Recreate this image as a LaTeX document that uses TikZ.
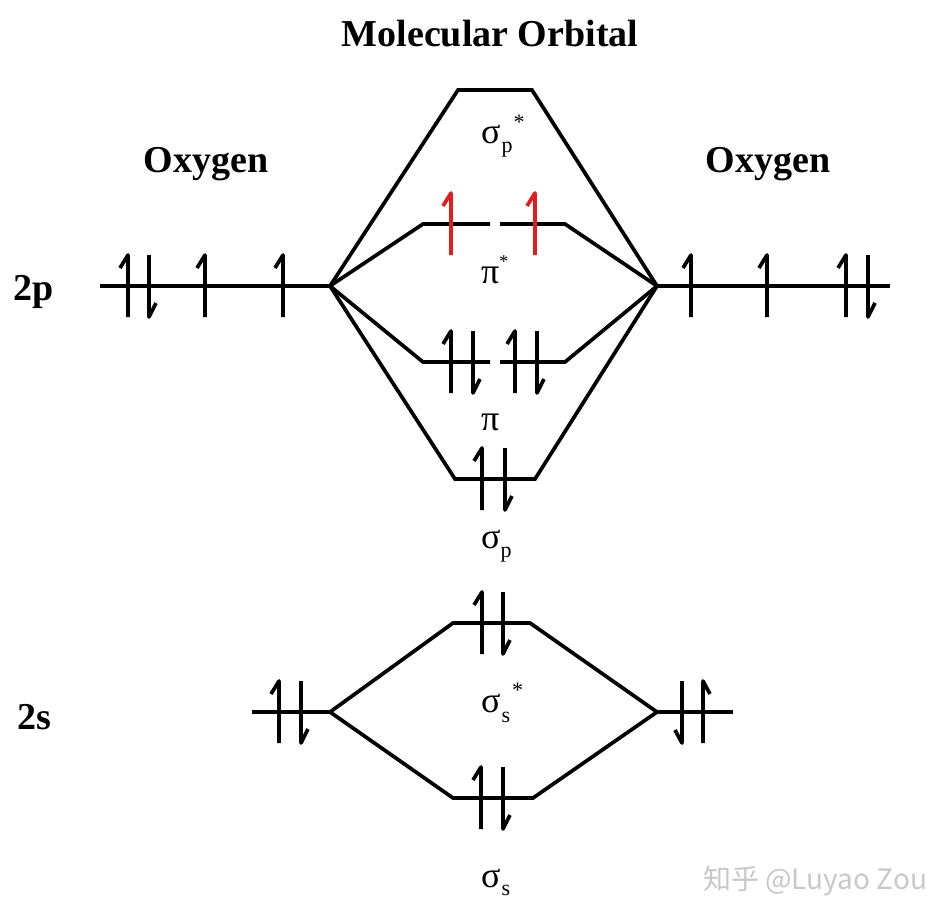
\documentclass[tikz,border=0pt]{standalone}
\usepackage{fontspec}
\setmainfont{Liberation Serif}
\newfontfamily\cjkfont{Noto Sans CJK SC}
\definecolor{ered}{HTML}{E01E1E}
\definecolor{wm}{HTML}{C8C8C8}
\newcommand{\subf}{\fontsize{22}{24}\selectfont}
\newcommand{\supf}{\fontsize{18}{20}\selectfont}
\begin{document}
\begin{tikzpicture}[x=1pt,y=-1pt,
  lvl/.style={line width=3.7pt, line join=miter},
  el/.style={line width=3.7pt, line join=round},
  ttl/.style={font=\fontsize{38}{42}\selectfont\bfseries, anchor=base, inner sep=0pt},
  mo/.style={font=\fontsize{36}{40}\selectfont, anchor=base west, inner sep=0pt},
  eup/.pic={\draw[el] (-8,-18) -- (0,-31) -- (0,31);},
  edn/.pic={\draw[el] (0,-31) -- (0,31) -- (7,17);},
  eupr/.pic={\draw[el] (7,-18) -- (0,-31) -- (0,31);},
  ednl/.pic={\draw[el] (0,-31) -- (0,31) -- (-7,18);}
]
\useasboundingbox (0,0) rectangle (950,921);
\fill[white] (0,0) rectangle (950,921);

% titles
\node[ttl] (tmo) at (490,46) {Molecular Orbital};
\node[ttl] (toxl) at (206,172) {Oxygen};
\node[ttl] (toxr) at (768,172) {Oxygen};
\node[ttl] (t2p) at (34,300) {2p};
\node[ttl] (t2s) at (34,729) {2s};

% coordinates
\coordinate (L2p) at (330,286);
\coordinate (R2p) at (657,286);
\coordinate (L2pe) at (100,286);
\coordinate (R2pe) at (890,286);
\coordinate (spsA) at (458,90);
\coordinate (spsB) at (532,90);
\coordinate (pisA) at (423,224);
\coordinate (pisM1) at (490,224);
\coordinate (pisM2) at (500,224);
\coordinate (pisB) at (565,224);
\coordinate (piA) at (423,362);
\coordinate (piM1) at (490,362);
\coordinate (piM2) at (500,362);
\coordinate (piB) at (565,362);
\coordinate (spA) at (455,479);
\coordinate (spB) at (535,479);
\coordinate (L2s) at (330,712);
\coordinate (R2s) at (657,712);
\coordinate (L2se) at (252,712);
\coordinate (R2se) at (733,712);
\coordinate (ssA) at (453,623);
\coordinate (ssB) at (530,623);
\coordinate (sA) at (453,798);
\coordinate (sB) at (533,798);

% levels
\draw[lvl] (L2pe) -- (L2p);
\draw[lvl] (R2p) -- (R2pe);
\draw[lvl] (L2p) -- (spsA) -- (spsB) -- (R2p);
\draw[lvl] (L2p) -- (pisA) -- (pisM1);
\draw[lvl] (pisM2) -- (pisB) -- (R2p);
\draw[lvl] (L2p) -- (piA) -- (piM1);
\draw[lvl] (piM2) -- (piB) -- (R2p);
\draw[lvl] (L2p) -- (spA) -- (spB) -- (R2p);
\draw[lvl] (L2se) -- (L2s);
\draw[lvl] (R2s) -- (R2se);
\draw[lvl] (L2s) -- (ssA) -- (ssB) -- (R2s);
\draw[lvl] (L2s) -- (sA) -- (sB) -- (R2s);

% electrons
\pic at (128,286) {eup}; \pic at (149,286) {edn};
\pic at (205,286) {eup}; \pic at (283,286) {eup};
\pic at (691,286) {eup}; \pic at (767,286) {eup};
\pic at (846,286) {eup}; \pic at (868,286) {edn};
\pic[ered] at (451,224) {eup}; \pic[ered] at (535,224) {eup};
\pic at (451,362) {eup}; \pic at (473,362) {edn};
\pic at (515,362) {eup}; \pic at (537,362) {edn};
\pic at (482,479) {eup}; \pic at (505,479) {edn};
\pic at (482,623) {eup}; \pic at (503,623) {edn};
\pic at (481,798) {eup}; \pic at (503,798) {edn};
\pic at (279,712) {eup}; \pic at (301,712) {edn};
\pic at (682,712) {ednl}; \pic at (703,712) {eupr};

% MO labels
\node[mo] (lsps) at (481,143) {σ\hspace{1pt}\raisebox{-9pt}{\subf p}\hspace{1pt}\raisebox{14pt}{\subf *}};
\node[mo] (lpis) at (481,283) {π\raisebox{16pt}{\supf *}};
\node[mo] (lpi) at (481,430) {π};
\node[mo] (lsp) at (481,548) {σ\raisebox{-9pt}{\subf p}};
\node[mo] (lsss) at (481,712) {σ\hspace{1pt}\raisebox{-10pt}{\subf s}\hspace{2pt}\raisebox{15pt}{\subf *}};
\node[mo] (lss) at (481,887) {σ\hspace{1pt}\raisebox{-8pt}{\subf s}};

% watermark
\node[anchor=base west, inner sep=0pt, text=wm, font=\fontsize{28}{30}\selectfont\cjkfont] (wmk) at (703,889) {知乎 @Luyao Zou};
\end{tikzpicture}
\end{document}
